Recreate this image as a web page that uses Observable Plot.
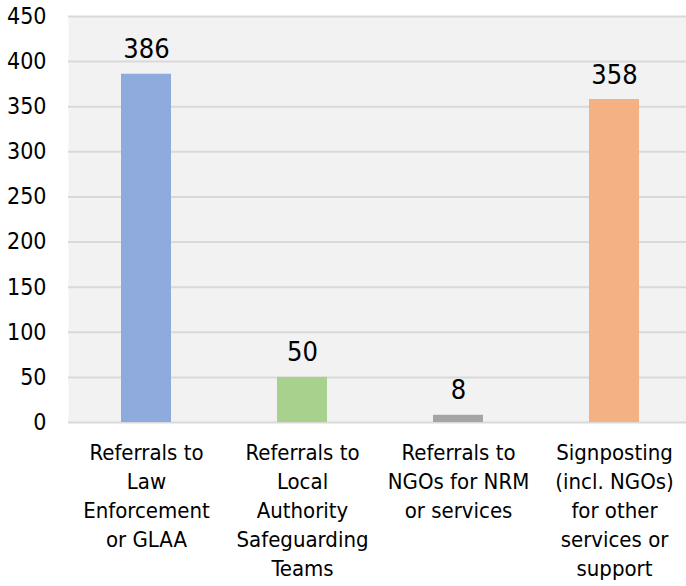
<!DOCTYPE html>
<html>
<head>
<meta charset="utf-8">
<script src="https://cdn.jsdelivr.net/npm/d3@7"></script>
<script src="https://cdn.jsdelivr.net/npm/@observablehq/plot@0.6"></script>
<style>
  html, body { margin: 0; padding: 0; background: #fff; overflow: hidden; }
  #chart svg { display: block; font-family: "DejaVu Sans Condensed", "DejaVu Sans", sans-serif; font-stretch: condensed; }
</style>
</head>
<body>
<div id="chart"></div>
<script>
const categories = [
  "Referrals to\nLaw\nEnforcement\nor GLAA",
  "Referrals to\nLocal\nAuthority\nSafeguarding\nTeams",
  "Referrals to\nNGOs for NRM\nor services",
  "Signposting\n(incl. NGOs)\nfor other\nservices or\nsupport"
];
const values = [386, 50, 8, 358];
const colors = ["#8faadc", "#a9d18e", "#a5a5a5", "#f4b183"];
const yTicks = [0, 50, 100, 150, 200, 250, 300, 350, 400, 450];

const data = categories.map((c, i) => ({category: c, value: values[i], color: colors[i]}));

const chart = Plot.plot({
  width: 686,
  height: 586,
  marginLeft: 68,
  marginRight: 0,
  marginTop: 16,
  marginBottom: 164,
  style: {fontFamily: "'DejaVu Sans Condensed', 'DejaVu Sans', sans-serif", color: "#000", background: "#fff"},
  x: {domain: categories, range: [68, 692], paddingInner: 0.68, paddingOuter: 0.34, align: 0.5},
  y: {domain: [0, 450], ticks: yTicks},
  marks: [
    Plot.frame({fill: "#f2f2f2", stroke: null}),
    Plot.gridY(yTicks, {stroke: "#d9d9d9", strokeWidth: 2, strokeOpacity: 1}),
    Plot.barY(data, {x: "category", y: "value", fill: "color"}),
    Plot.text(data, {x: "category", y: "value", text: d => String(d.value), lineAnchor: "bottom", dy: -16, fontSize: 27, fill: "#000"}),
    Plot.axisY(yTicks, {tickSize: 0, tickPadding: 22, fontSize: 23, fill: "#000", label: null}),
    Plot.axisX({tickSize: 0, tickPadding: 17, fontSize: 22, lineHeight: 1.32, fill: "#000", label: null})
  ]
});
document.getElementById("chart").appendChild(chart);
</script>
</body>
</html>
